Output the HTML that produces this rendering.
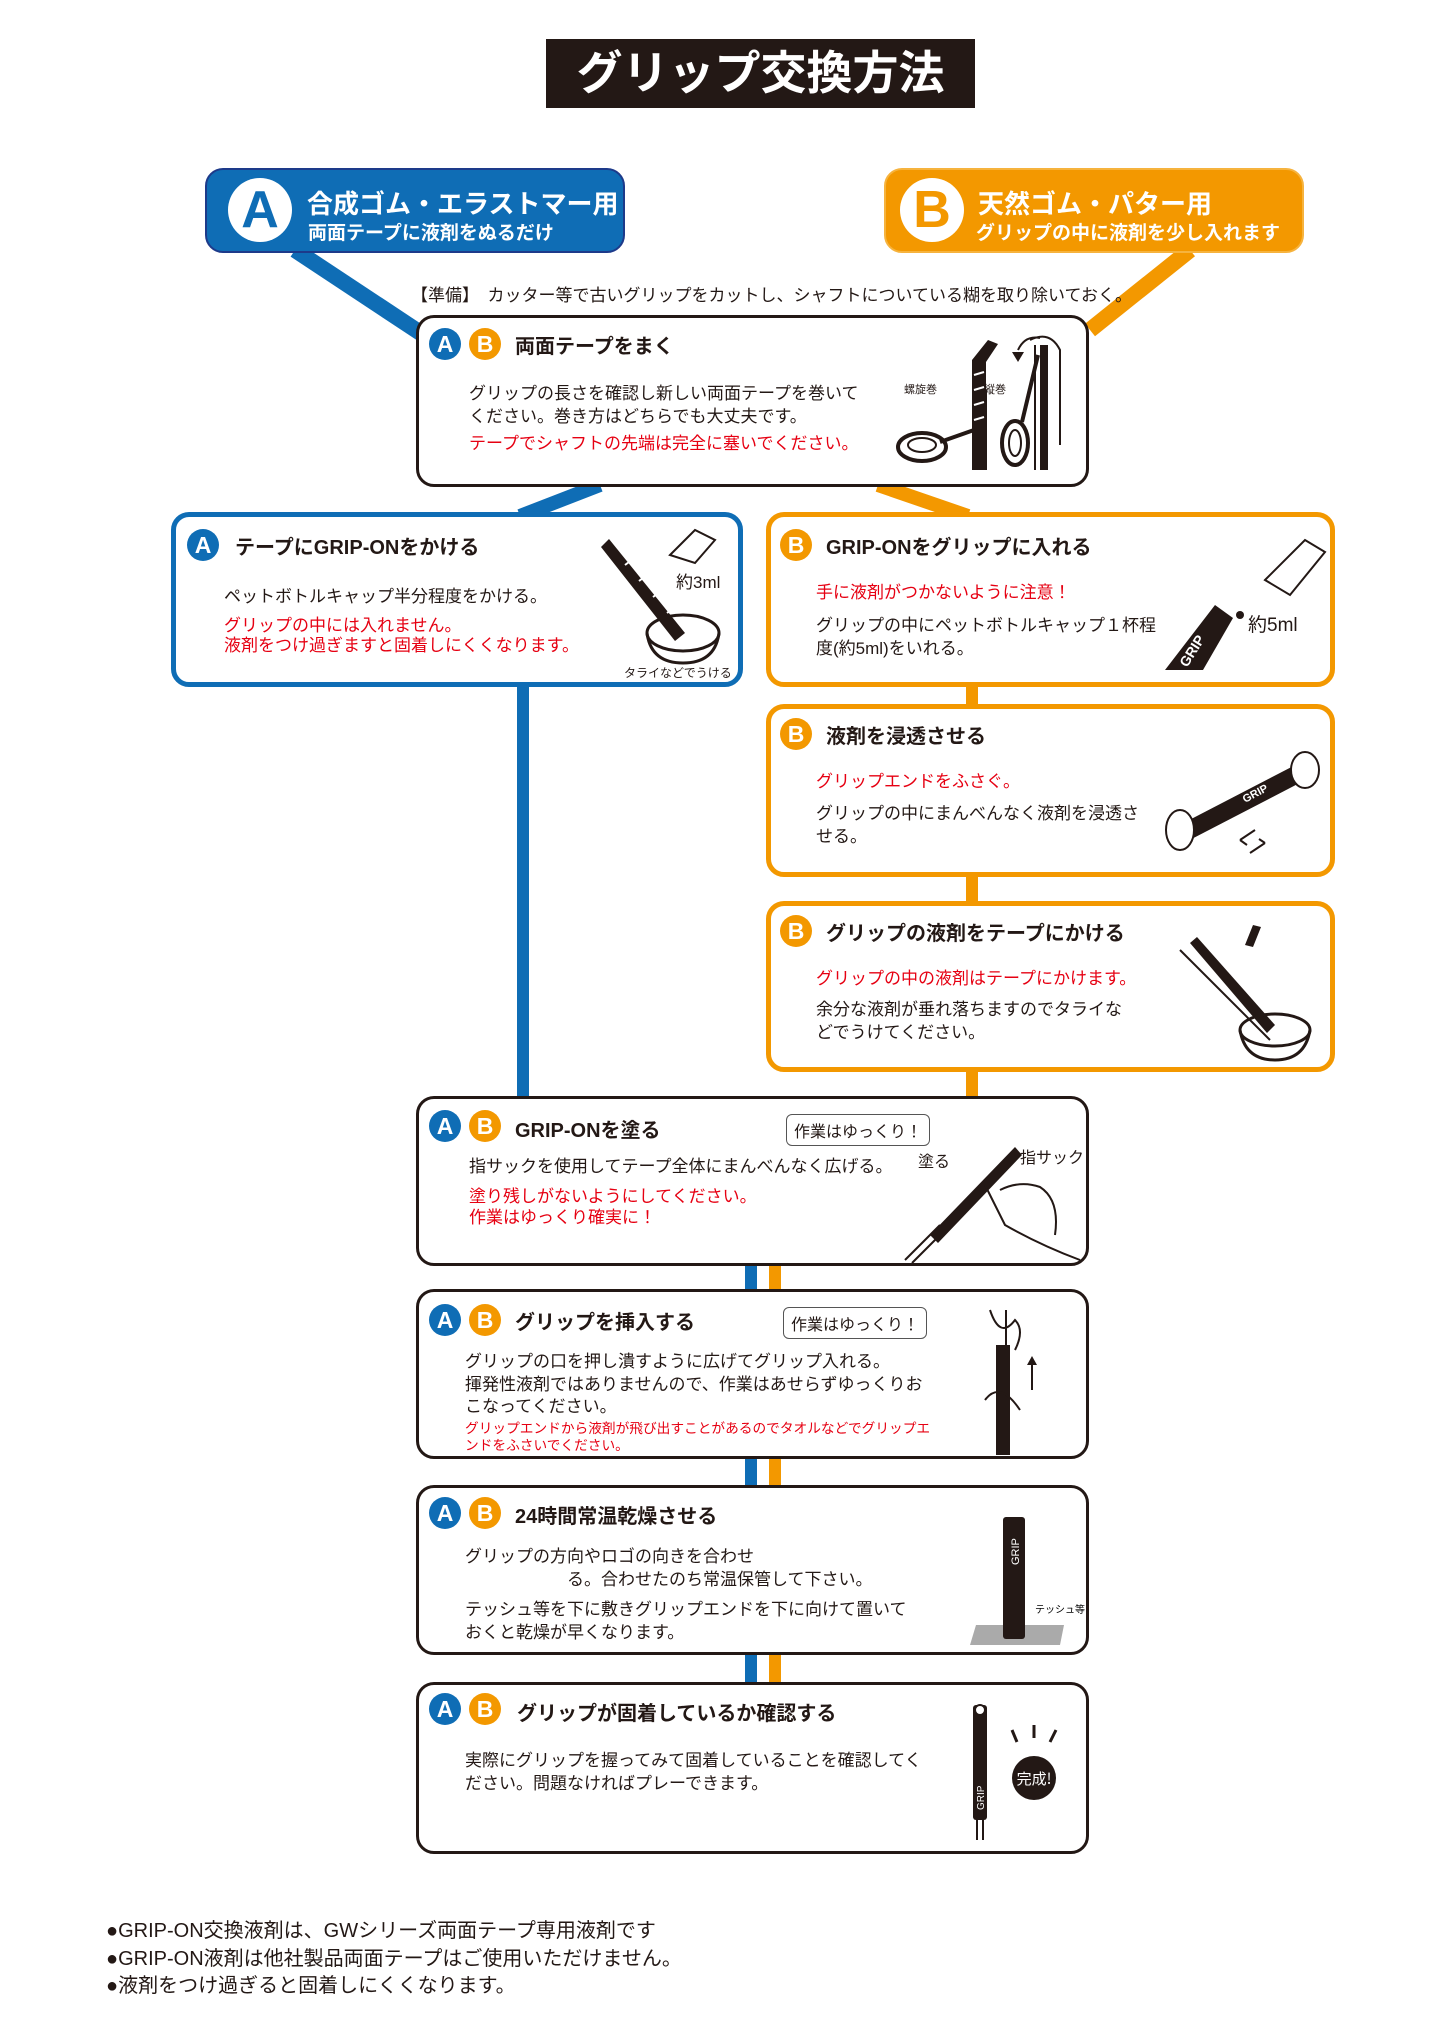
<!DOCTYPE html>
<html><head><meta charset="utf-8"><style>
*{margin:0;padding:0;box-sizing:border-box}
body{width:1440px;height:2036px;background:#fff;position:relative;overflow:hidden;font-family:"Liberation Sans","Noto Sans CJK JP",sans-serif;color:#231815}
.a{position:absolute}
.box{position:absolute;border:3.5px solid #231815;border-radius:18px;background:#fff}
.bb{border:5px solid #0f6db5}
.ob{border:5px solid #f39800}
.bd{position:absolute;width:32px;height:32px;border-radius:50%;color:#fff;font-weight:bold;font-size:23px;line-height:32px;text-align:center;font-family:"Liberation Sans",sans-serif}
.A{background:#0f6db5}.B{background:#f39800}
.t{position:absolute;font-weight:bold;font-size:20px;white-space:nowrap}
.p{position:absolute;font-size:17px;line-height:22.5px;white-space:nowrap}
.r{color:#e60012}
.bub{position:absolute;border:1.5px solid #555;border-radius:6px;font-size:16px;padding:3px 7px;background:#fff;white-space:nowrap}
.s{position:absolute;font-size:13px;white-space:nowrap}
</style></head><body>
<svg class="a" style="left:0;top:0" width="1440" height="2036">
<g stroke-linecap="butt">
<line x1="295" y1="250" x2="425" y2="336" stroke="#0f6db5" stroke-width="16"/>
<line x1="1190" y1="250" x2="1090" y2="330" stroke="#f39800" stroke-width="16"/>
<line x1="600" y1="485" x2="520" y2="516" stroke="#0f6db5" stroke-width="14"/>
<line x1="878" y1="485" x2="968" y2="516" stroke="#f39800" stroke-width="14"/>
<rect x="517" y="685" width="12" height="412" fill="#0f6db5"/>
<rect x="966" y="685" width="12" height="415" fill="#f39800"/>
<rect x="745" y="1262" width="12" height="30" fill="#0f6db5"/>
<rect x="769" y="1262" width="12" height="30" fill="#f39800"/>
<rect x="745" y="1456" width="12" height="30" fill="#0f6db5"/>
<rect x="769" y="1456" width="12" height="30" fill="#f39800"/>
<rect x="745" y="1654" width="12" height="30" fill="#0f6db5"/>
<rect x="769" y="1654" width="12" height="30" fill="#f39800"/>
</g></svg>

<div class="a" style="left:546px;top:39px;width:429px;height:69px;background:#231815;color:#fff;font-size:46px;font-weight:bold;text-align:center;line-height:69px">グリップ交換方法</div>

<div class="a" style="left:205px;top:168px;width:420px;height:85px;background:#0f6db5;border:2px solid #1d3a8a;border-radius:18px"></div>
<div class="a" style="left:228px;top:178px;width:64px;height:64px;border-radius:50%;background:#fff;color:#0f6db5;font-size:52px;font-weight:bold;text-align:center;line-height:64px;font-family:'Liberation Sans',sans-serif">A</div>
<div class="a" style="left:307px;top:184px;color:#fff;font-size:26px;font-weight:bold;white-space:nowrap">合成ゴム・エラストマー用</div>
<div class="a" style="left:308px;top:218px;color:#fff;font-size:19px;font-weight:bold;white-space:nowrap">両面テープに液剤をぬるだけ</div>

<div class="a" style="left:884px;top:168px;width:420px;height:85px;background:#f39800;border:2px solid #f6b33e;border-radius:18px"></div>
<div class="a" style="left:900px;top:178px;width:64px;height:64px;border-radius:50%;background:#fff;color:#f39800;font-size:52px;font-weight:bold;text-align:center;line-height:64px;font-family:'Liberation Sans',sans-serif">B</div>
<div class="a" style="left:978px;top:184px;color:#fff;font-size:26px;font-weight:bold;white-space:nowrap">天然ゴム・パター用</div>
<div class="a" style="left:976px;top:218px;color:#fff;font-size:19px;font-weight:bold;white-space:nowrap">グリップの中に液剤を少し入れます</div>

<div class="p" style="left:411px;top:285px;font-size:17px">【準備】　カッター等で古いグリップをカットし、シャフトについている糊を取り除いておく。</div>

<div class="box" style="left:416px;top:315px;width:673px;height:172px"></div>
<div class="bd A" style="left:429px;top:328px">A</div><div class="bd B" style="left:469px;top:328px">B</div>
<div class="t" style="left:515px;top:330px">両面テープをまく</div>
<div class="p" style="left:469px;top:383px">グリップの長さを確認し新しい両面テープを巻いて<br>ください。巻き方はどちらでも大丈夫です。</div>
<div class="p r" style="left:469px;top:433px">テープでシャフトの先端は完全に塞いでください。</div>
<div class="s" style="left:904px;top:381px;font-size:11px">螺旋巻</div>
<div class="s" style="left:984px;top:381px;font-size:11px">縦巻</div>
<svg class="a" style="left:890px;top:330px" width="190" height="150">
<polygon points="82,30 98,10 108,14 96,32 96,140 82,140" fill="#231815"/>
<g stroke="#fff" stroke-width="2"><line x1="84" y1="45" x2="94" y2="42"/><line x1="84" y1="60" x2="94" y2="57"/><line x1="84" y1="75" x2="94" y2="72"/><line x1="84" y1="90" x2="94" y2="87"/></g>
<line x1="96" y1="60" x2="96" y2="140" stroke="#231815" stroke-width="2"/>
<ellipse cx="32" cy="117" rx="24" ry="14" fill="#fff" stroke="#231815" stroke-width="4"/>
<ellipse cx="32" cy="115" rx="14" ry="7" fill="none" stroke="#231815" stroke-width="2"/>
<line x1="50" y1="112" x2="84" y2="100" stroke="#231815" stroke-width="4"/>
<rect x="150" y="15" width="8" height="125" fill="#231815"/><line x1="145" y1="15" x2="145" y2="140" stroke="#231815" stroke-width="2"/>
<path d="M140,10 Q160,0 170,20 L170,115" fill="none" stroke="#231815" stroke-width="2"/>
<path d="M128,20 Q135,5 150,8" fill="none" stroke="#231815" stroke-width="2"/><polygon points="122,22 134,22 128,32" fill="#231815"/>
<ellipse cx="125" cy="113" rx="13" ry="22" fill="#fff" stroke="#231815" stroke-width="4"/>
<ellipse cx="125" cy="113" rx="6" ry="13" fill="none" stroke="#231815" stroke-width="2"/>
<line x1="132" y1="92" x2="148" y2="25" stroke="#231815" stroke-width="4"/>
</svg>

<div class="box bb" style="left:171px;top:512px;width:572px;height:175px"></div>
<div class="bd A" style="left:187px;top:529px">A</div>
<div class="t" style="left:235px;top:531px">テープにGRIP-ONをかける</div>
<div class="p" style="left:224px;top:586px">ペットボトルキャップ半分程度をかける。</div>
<div class="p r" style="left:224px;top:616px;line-height:20px">グリップの中には入れません。<br>液剤をつけ過ぎますと固着しにくくなります。</div>
<div class="p" style="left:676px;top:572px">約3ml</div>
<div class="s" style="left:624px;top:664px;font-size:12px">タライなどでうける</div>
<svg class="a" style="left:595px;top:525px" width="140" height="145">
<polygon points="6,22 14,14 90,108 80,116" fill="#231815"/>
<g stroke="#fff" stroke-width="2"><line x1="30" y1="40" x2="38" y2="34"/><line x1="44" y1="56" x2="52" y2="50"/><line x1="58" y1="72" x2="66" y2="66"/><line x1="72" y1="88" x2="80" y2="82"/></g>
<ellipse cx="88" cy="108" rx="36" ry="18" fill="none" stroke="#231815" stroke-width="3"/>
<path d="M52,108 Q56,138 88,138 Q120,138 124,108" fill="none" stroke="#231815" stroke-width="3"/>
<path d="M75,30 L100,5 L120,15 L100,38 Z" fill="#fff" stroke="#231815" stroke-width="2"/>
</svg>

<div class="box ob" style="left:766px;top:512px;width:569px;height:175px"></div>
<div class="bd B" style="left:780px;top:529px">B</div>
<div class="t" style="left:826px;top:531px">GRIP-ONをグリップに入れる</div>
<div class="p r" style="left:816px;top:582px">手に液剤がつかないように注意！</div>
<div class="p" style="left:816px;top:615px">グリップの中にペットボトルキャップ１杯程<br>度(約5ml)をいれる。</div>
<div class="p" style="left:1248px;top:615px;font-size:19px">約5ml</div>
<svg class="a" style="left:1165px;top:530px" width="170" height="150">
<polygon points="0,140 50,75 68,88 38,140" fill="#231815"/>
<text x="22" y="138" fill="#fff" font-size="14" font-weight="bold" transform="rotate(-58 22 138)" font-family="Liberation Sans">GRIP</text>
<path d="M100,50 L140,10 L160,22 L125,65 Z" fill="#fff" stroke="#231815" stroke-width="2"/>
<circle cx="75" cy="85" r="4" fill="#231815"/>
</svg>

<div class="box ob" style="left:766px;top:704px;width:569px;height:173px"></div>
<div class="bd B" style="left:780px;top:718px">B</div>
<div class="t" style="left:826px;top:720px">液剤を浸透させる</div>
<div class="p r" style="left:816px;top:771px">グリップエンドをふさぐ。</div>
<div class="p" style="left:816px;top:803px">グリップの中にまんべんなく液剤を浸透さ<br>せる。</div>
<svg class="a" style="left:1155px;top:745px" width="175" height="115">
<polygon points="15,85 150,15 160,30 25,100" fill="#231815"/>
<text x="90" y="58" fill="#fff" font-size="11" font-weight="bold" transform="rotate(-28 90 58)">GRIP</text>
<ellipse cx="25" cy="85" rx="14" ry="20" fill="#fff" stroke="#231815" stroke-width="2"/>
<ellipse cx="150" cy="25" rx="14" ry="18" fill="#fff" stroke="#231815" stroke-width="2"/>
<path d="M85,95 L100,85 M85,95 L92,100 M95,108 L110,98 M110,98 L104,94" stroke="#231815" stroke-width="2" fill="none"/>
</svg>

<div class="box ob" style="left:766px;top:901px;width:569px;height:171px"></div>
<div class="bd B" style="left:780px;top:915px">B</div>
<div class="t" style="left:826px;top:917px">グリップの液剤をテープにかける</div>
<div class="p r" style="left:816px;top:968px">グリップの中の液剤はテープにかけます。</div>
<div class="p" style="left:816px;top:999px">余分な液剤が垂れ落ちますのでタライな<br>どでうけてください。</div>
<svg class="a" style="left:1175px;top:925px" width="150" height="140">
<polygon points="70,20 78,0 86,2 78,22" fill="#231815"/>
<line x1="5" y1="25" x2="95" y2="115" stroke="#231815" stroke-width="2"/>
<polygon points="15,18 22,12 100,100 92,108" fill="#231815"/>
<ellipse cx="100" cy="105" rx="35" ry="16" fill="none" stroke="#231815" stroke-width="3"/>
<path d="M65,105 Q70,135 100,135 Q130,135 135,105" fill="none" stroke="#231815" stroke-width="3"/>
</svg>

<div class="box" style="left:416px;top:1096px;width:673px;height:170px"></div>
<div class="bd A" style="left:429px;top:1110px">A</div><div class="bd B" style="left:469px;top:1110px">B</div>
<div class="t" style="left:515px;top:1114px">GRIP-ONを塗る</div>
<div class="bub" style="left:786px;top:1114px">作業はゆっくり！</div>
<div class="p" style="left:469px;top:1156px">指サックを使用してテープ全体にまんべんなく広げる。</div>
<div class="p r" style="left:469px;top:1186px;line-height:21px">塗り残しがないようにしてください。<br>作業はゆっくり確実に！</div>
<div class="p" style="left:918px;top:1152px;font-size:16px">塗る</div>
<div class="p" style="left:1020px;top:1148px;font-size:16px">指サック</div>
<svg class="a" style="left:900px;top:1125px" width="190" height="140">
<polygon points="30,110 115,22 122,30 38,118" fill="#231815"/>
<line x1="5" y1="135" x2="40" y2="100" stroke="#231815" stroke-width="2"/><line x1="12" y1="138" x2="45" y2="105" stroke="#231815" stroke-width="2"/>
<path d="M85,60 Q95,80 105,100 Q140,120 180,135 M100,65 Q120,55 140,62 Q160,75 155,110" fill="none" stroke="#231815" stroke-width="2"/>
</svg>

<div class="box" style="left:416px;top:1289px;width:673px;height:170px"></div>
<div class="bd A" style="left:429px;top:1304px">A</div><div class="bd B" style="left:469px;top:1304px">B</div>
<div class="t" style="left:515px;top:1306px">グリップを挿入する</div>
<div class="bub" style="left:783px;top:1307px">作業はゆっくり！</div>
<div class="p" style="left:465px;top:1351px">グリップの口を押し潰すように広げてグリップ入れる。<br>揮発性液剤ではありませんので、作業はあせらずゆっくりお<br>こなってください。</div>
<div class="p r" style="left:465px;top:1420px;font-size:13.7px;line-height:17px">グリップエンドから液剤が飛び出すことがあるのでタオルなどでグリップエ<br>ンドをふさいでください。</div>
<svg class="a" style="left:970px;top:1300px" width="100" height="160">
<rect x="26" y="45" width="14" height="110" fill="#231815"/>
<line x1="36" y1="10" x2="36" y2="45" stroke="#231815" stroke-width="2"/>
<path d="M20,10 Q30,40 45,20 Q55,30 45,50 M15,100 Q30,80 50,110" fill="none" stroke="#231815" stroke-width="2"/>
<line x1="62" y1="90" x2="62" y2="60" stroke="#231815" stroke-width="2"/><polygon points="57,65 67,65 62,56" fill="#231815"/>
</svg>

<div class="box" style="left:416px;top:1485px;width:673px;height:170px"></div>
<div class="bd A" style="left:429px;top:1497px">A</div><div class="bd B" style="left:469px;top:1497px">B</div>
<div class="t" style="left:515px;top:1500px">24時間常温乾燥させる</div>
<div class="p" style="left:465px;top:1546px">グリップの方向やロゴの向きを合わせ<br>　　　　　　る。合わせたのち常温保管して下さい。</div>
<div class="p" style="left:465px;top:1599px">テッシュ等を下に敷きグリップエンドを下に向けて置いて<br>おくと乾燥が早くなります。</div>
<svg class="a" style="left:960px;top:1505px" width="130" height="150">
<polygon points="10,140 100,140 104,120 16,120" fill="#aaa"/>
<rect x="43" y="12" width="22" height="122" rx="3" fill="#231815"/>
<text x="59" y="60" fill="#fff" font-size="11" transform="rotate(-90 59 60)" font-family="Liberation Sans">GRIP</text>
<text x="75" y="108" font-size="10" font-family="Noto Sans CJK JP">テッシュ等</text>
</svg>

<div class="box" style="left:416px;top:1682px;width:673px;height:172px"></div>
<div class="bd A" style="left:429px;top:1693px">A</div><div class="bd B" style="left:469px;top:1693px">B</div>
<div class="t" style="left:517px;top:1697px">グリップが固着しているか確認する</div>
<div class="p" style="left:465px;top:1750px">実際にグリップを握ってみて固着していることを確認してく<br>ださい。問題なければプレーできます。</div>
<svg class="a" style="left:960px;top:1700px" width="120" height="145">
<rect x="13" y="5" width="14" height="115" rx="3" fill="#231815"/>
<circle cx="20" cy="10" r="5" fill="#fff" stroke="#231815" stroke-width="2"/>
<text x="24" y="110" fill="#fff" font-size="10" transform="rotate(-90 24 110)" font-family="Liberation Sans">GRIP</text>
<line x1="17" y1="120" x2="17" y2="140" stroke="#231815" stroke-width="2"/><line x1="23" y1="120" x2="23" y2="140" stroke="#231815" stroke-width="2"/>
<circle cx="74" cy="78" r="22" fill="#231815"/>
<text x="74" y="84" fill="#fff" font-size="15" text-anchor="middle" font-family="Noto Sans CJK JP">完成!</text>
<g stroke="#231815" stroke-width="3"><line x1="57" y1="42" x2="52" y2="30"/><line x1="74" y1="38" x2="74" y2="25"/><line x1="90" y1="42" x2="96" y2="30"/></g>
</svg>

<div class="p" style="left:106px;top:1918px;font-size:20px;line-height:27.5px">●GRIP-ON交換液剤は、GWシリーズ両面テープ専用液剤です<br>●GRIP-ON液剤は他社製品両面テープはご使用いただけません。<br>●液剤をつけ過ぎると固着しにくくなります。</div>
</body></html>
